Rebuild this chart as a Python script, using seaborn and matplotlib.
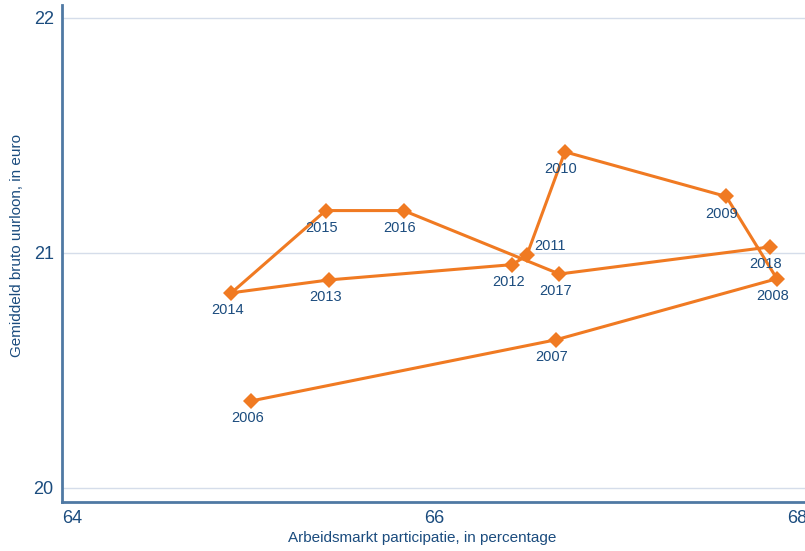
import matplotlib
matplotlib.use("Agg")
import matplotlib.pyplot as plt
import seaborn as sns
import pandas as pd

years = [2006, 2007, 2008, 2009, 2010, 2011, 2012, 2013, 2014, 2015, 2016, 2017, 2018]
participatie = [64.99, 66.67, 67.89, 67.61, 66.72, 66.51, 66.43, 65.42, 64.88, 65.40, 65.83, 66.69, 67.85]
uurloon = [20.37, 20.63, 20.89, 21.24, 21.43, 20.99, 20.95, 20.885, 20.83, 21.18, 21.18, 20.91, 21.025]
x_ticks = [64, 66, 68]
y_ticks = [20, 21, 22]

df = pd.DataFrame({"jaar": years, "x": participatie, "y": uurloon})

sns.set_style("white")
plt.rcParams["font.family"] = ["Liberation Sans", "DejaVu Sans"]

navy = "#1b4c7e"
spine_c = "#4f79a3"
orange = "#f07a22"
grid_c = "#d5ddea"

fig = plt.figure(figsize=(8.05, 5.51), dpi=100)
ax = fig.add_axes([0.077, 0.089, 0.923, 0.902])

sns.lineplot(data=df, x="x", y="y", sort=False, estimator=None, color=orange,
             marker="D", markersize=8, markeredgewidth=0, linewidth=2.2, ax=ax, zorder=3)

ax.set_xlim(63.945, 68.045)
ax.set_ylim(19.94, 22.055)
ax.set_xticks(x_ticks)
ax.set_yticks(y_ticks)
ax.set_xticklabels([str(t) for t in x_ticks])
ax.set_yticklabels([str(t) for t in y_ticks])
ax.tick_params(axis="both", length=0, labelsize=13, labelcolor=navy, pad=6)

for t in y_ticks:
    ax.axhline(t, color=grid_c, linewidth=1.0, zorder=0)

for s in ["top", "right"]:
    ax.spines[s].set_visible(False)
for s in ["left", "bottom"]:
    ax.spines[s].set_color(spine_c)
    ax.spines[s].set_linewidth(2.0)

ax.set_xlabel("Arbeidsmarkt participatie, in percentage", color=navy, fontsize=11)
ax.set_ylabel("Gemiddeld bruto uurloon, in euro", color=navy, fontsize=11)
ax.xaxis.set_label_coords(0.485, -0.0724)
ax.xaxis.label.set_va("center")
ax.yaxis.set_label_coords(-0.0606, 0.517)
ax.yaxis.label.set_va("center")

for yr, xv, yv in zip(years, participatie, uurloon):
    if yr == 2011:
        ax.annotate(str(yr), (xv, yv), xytext=(17, 7), textcoords="offset points",
                    ha="center", va="center", color=navy, fontsize=10.5)
    else:
        ax.annotate(str(yr), (xv, yv), xytext=(-3, -12.5), textcoords="offset points",
                    ha="center", va="center", color=navy, fontsize=10.5)

fig.savefig("out.png", dpi=100)
